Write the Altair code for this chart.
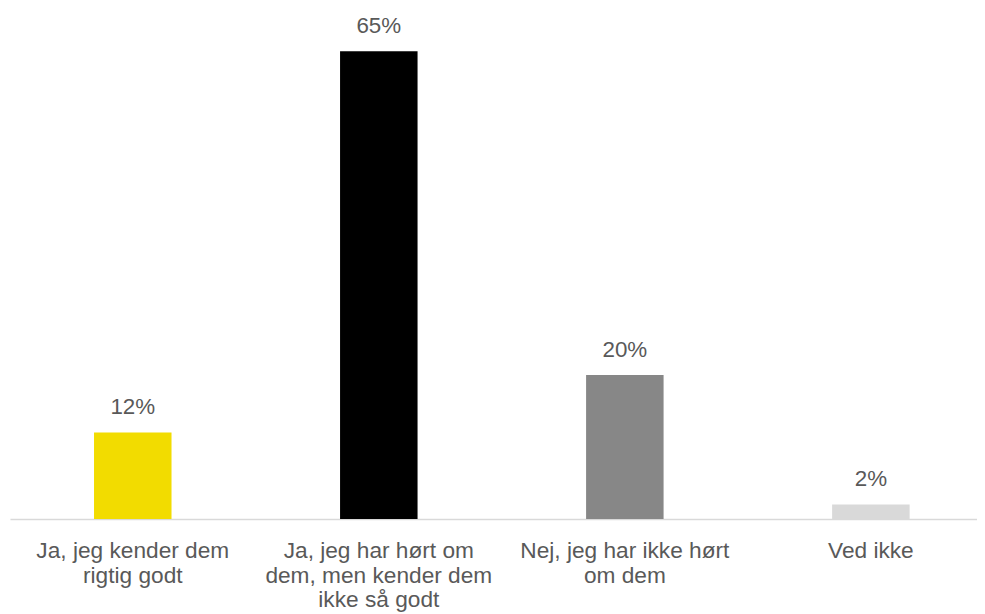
import altair as alt
import pandas as pd

categories = [
    "Ja, jeg kender dem|rigtig godt",
    "Ja, jeg har hørt om|dem, men kender dem|ikke så godt",
    "Nej, jeg har ikke hørt|om dem",
    "Ved ikke",
]
values = [12, 65, 20, 2]
labels = ["12%", "65%", "20%", "2%"]
colors = ["#F2DC00", "#000000", "#878787", "#D9D9D9"]

df = pd.DataFrame({"cat": categories, "val": values, "lab": labels})

x = alt.X(
    "cat:N",
    sort=categories,
    title=None,
    scale=alt.Scale(paddingInner=0.685, paddingOuter=0.3077, align=0.555),
    axis=alt.Axis(
        labelExpr="split(datum.label, '|')",
        labelAngle=0,
        labelFontSize=22.8,
        labelFont="Liberation Sans",
        labelColor="#595959",
        labelLineHeight=24.5,
        labelPadding=21,
        labelLimit=0,
        ticks=False,
        tickSize=0,
        domainColor="#D9D9D9",
        domainWidth=1.5,
        grid=False,
    ),
)
y = alt.Y("val:Q", scale=alt.Scale(domain=[0, 70.8], nice=False), axis=None)

bars = alt.Chart(df).mark_bar().encode(
    x=x,
    y=y,
    color=alt.Color("cat:N", scale=alt.Scale(domain=categories, range=colors), legend=None),
)
text = alt.Chart(df).mark_text(
    baseline="alphabetic", dy=-18.5, fontSize=22.5, font="Liberation Sans", color="#595959"
).encode(x=alt.X("cat:N", sort=categories), y="val:Q", text="lab:N")

chart = (
    alt.layer(bars, text)
    .properties(width=972, height=512, padding={"left": 2, "top": 0, "right": 0, "bottom": 0})
    .configure_view(stroke=None)
)
chart.save("out.html", embed_options={"renderer": "svg", "actions": False})
